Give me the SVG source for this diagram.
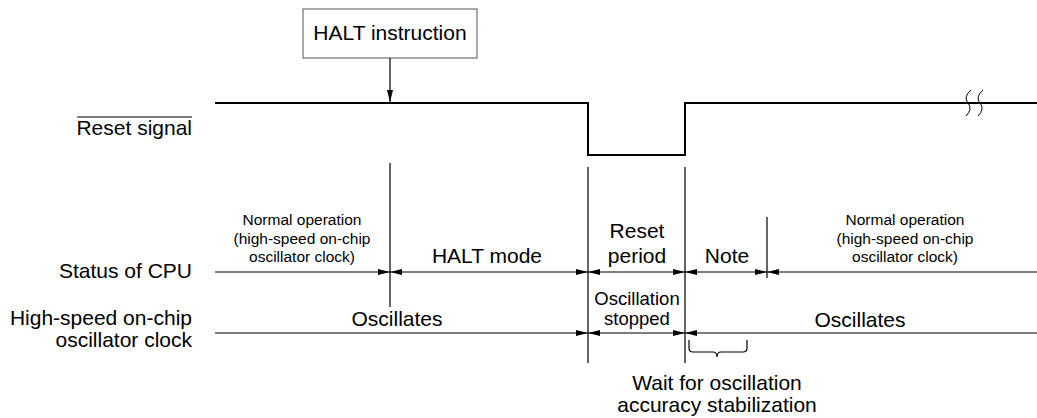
<svg xmlns="http://www.w3.org/2000/svg" width="1037" height="418" viewBox="0 0 1037 418">
<style>
text{font-family:"Liberation Sans",Arial,sans-serif;fill:#000}
.l{font-size:21px}
.m{font-size:18.5px}
.s{font-size:15.5px}
.e{text-anchor:end}
.c{text-anchor:middle}
.ln{stroke:#000;stroke-width:1.2;fill:none}
.sig{stroke:#000;stroke-width:2;fill:none}
</style>
<defs>
<marker id="ah" viewBox="0 0 12 6" refX="12" refY="3" markerWidth="12" markerHeight="6" markerUnits="userSpaceOnUse" orient="auto">
<path d="M0,0 L12,3 L0,6 Z" fill="#000"/>
</marker>
</defs>
<rect width="1037" height="418" fill="#fff"/>

<g id="labels">
<text class="l e" x="192" y="135">Reset signal</text>
<line x1="77" y1="117" x2="192" y2="117" stroke="#000" stroke-width="1.2"/>
<text class="l e" x="192" y="278">Status of CPU</text>
<text class="l e" x="192" y="325">High-speed on-chip</text>
<text class="l e" x="192" y="347">oscillator clock</text>
</g>

<g id="halt-instruction">
<rect x="303" y="9" width="174" height="49" fill="#fff" stroke="#555" stroke-width="1"/>
<text class="l c" x="390" y="40">HALT instruction</text>
</g>

<g id="reset-signal">
<path class="sig" d="M215,103 H588 V155 H685 V103 H1037"/>
<path d="M971,90 Q963,97 968,103 Q973,109 966,116 M983,90 Q975,97 980,103 Q985,109 978,116" stroke="#000" stroke-width="1" fill="none"/>
</g>

<g id="connectors">
<line class="ln" x1="390" y1="58" x2="390" y2="102" marker-end="url(#ah)"/>
<line class="ln" x1="390" y1="163" x2="390" y2="307"/>
<line class="ln" x1="588" y1="167" x2="588" y2="363"/>
<line class="ln" x1="685" y1="167" x2="685" y2="363"/>
<line class="ln" x1="767" y1="217" x2="767" y2="278"/>
<line class="ln" x1="215" y1="272" x2="390" y2="272" marker-end="url(#ah)"/>
<line class="ln" x1="489" y1="272" x2="390" y2="272" marker-end="url(#ah)"/>
<line class="ln" x1="489" y1="272" x2="588" y2="272" marker-end="url(#ah)"/>
<line class="ln" x1="636" y1="272" x2="588" y2="272" marker-end="url(#ah)"/>
<line class="ln" x1="636" y1="272" x2="685" y2="272" marker-end="url(#ah)"/>
<line class="ln" x1="726" y1="272" x2="685" y2="272" marker-end="url(#ah)"/>
<line class="ln" x1="726" y1="272" x2="767" y2="272" marker-end="url(#ah)"/>
<line class="ln" x1="1037" y1="272" x2="767" y2="272" marker-end="url(#ah)"/>
<line class="ln" x1="215" y1="333" x2="588" y2="333" marker-end="url(#ah)"/>
<line class="ln" x1="636" y1="333" x2="588" y2="333" marker-end="url(#ah)"/>
<line class="ln" x1="636" y1="333" x2="685" y2="333" marker-end="url(#ah)"/>
<line class="ln" x1="1037" y1="333" x2="685" y2="333" marker-end="url(#ah)"/>
<path class="ln" d="M689,340 V348 Q689,352 693,352 H713 Q717,352 717,357 Q717,352 721,352 H743 Q747,352 747,348 V340" stroke-width="1"/>
</g>

<g id="status-texts">
<text class="s c" x="302" y="225">Normal operation</text>
<text class="s c" x="302" y="243.5">(high-speed on-chip</text>
<text class="s c" x="302" y="262">oscillator clock)</text>
<text class="l c" x="487" y="263">HALT mode</text>
<text class="l c" x="637" y="238">Reset</text>
<text class="l c" x="637" y="263">period</text>
<text class="l c" x="727" y="263">Note</text>
<text class="s c" x="905" y="225">Normal operation</text>
<text class="s c" x="905" y="243.5">(high-speed on-chip</text>
<text class="s c" x="905" y="262">oscillator clock)</text>
</g>

<g id="clock-texts">
<text class="l c" x="397" y="326">Oscillates</text>
<text class="m c" x="637" y="305">Oscillation</text>
<text class="m c" x="637" y="325">stopped</text>
<text class="l c" x="860" y="327">Oscillates</text>
</g>

<g id="wait-note">
<text class="l c" x="717" y="390">Wait for oscillation</text>
<text class="l c" x="717" y="412">accuracy stabilization</text>
</g>
</svg>
